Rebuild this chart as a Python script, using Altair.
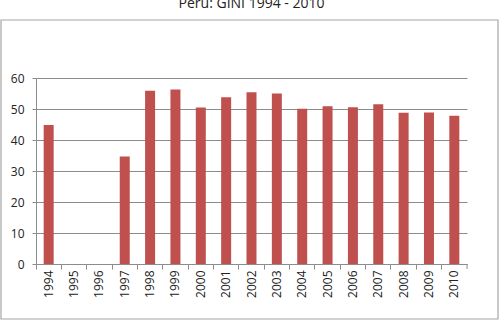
import altair as alt
import pandas as pd

years = ["1994", "1995", "1996", "1997", "1998", "1999", "2000", "2001", "2002",
         "2003", "2004", "2005", "2006", "2007", "2008", "2009", "2010"]
gini = [44.8, None, None, 34.7, 55.9, 56.3, 50.5, 53.8, 55.4,
        55.0, 50.1, 50.9, 50.6, 51.5, 48.8, 48.9, 47.8]
title_text = "Perú: GINI 1994 - 2010"

df = pd.DataFrame({"year": years, "gini": gini})
df_title = pd.DataFrame({"t": [title_text]})

FONT = "Open Sans"
GRAY = "#8c8c8c"

xscale = alt.Scale(domain=years, paddingInner=0, paddingOuter=0)
yscale = alt.Scale(domain=[0, 60], nice=False)

bars = alt.Chart(df).mark_bar(size=10, color="#C0504D").encode(
    x=alt.X("year:O", scale=xscale, title=None,
            axis=alt.Axis(orient="bottom", labelAngle=270, ticks=False, domain=False,
                          labelPadding=6, labelFont=FONT, labelFontSize=12,
                          labelColor="#222222")),
    y=alt.Y("gini:Q", scale=yscale, title=None,
            axis=alt.Axis(values=[0, 10, 20, 30, 40, 50, 60], grid=True,
                          gridColor=GRAY, domainColor=GRAY, tickColor=GRAY,
                          tickSize=4, labelPadding=8, labelFont=FONT,
                          labelFontSize=12, labelColor="#222222")),
)

ticks = alt.Chart(df).mark_rule(opacity=0).encode(
    x=alt.X("year:O", scale=xscale, title=None,
            axis=alt.Axis(orient="bottom", bandPosition=0, labels=False, ticks=True,
                          tickSize=5, tickColor=GRAY, domainColor=GRAY, grid=False)),
)

end_tick = alt.Chart(df_title).mark_rule(color=GRAY).encode(
    x=alt.value(431), y=alt.value(186), y2=alt.value(191)
)

border = alt.Chart(df_title).mark_rect(fill=None, stroke="#a6a6a6", strokeWidth=1.2).encode(
    x=alt.value(-35), x2=alt.value(462), y=alt.value(-58), y2=alt.value(241)
)

title = alt.Chart(df_title).mark_text(
    font=FONT, fontSize=14, color="#222222",
    align="center", baseline="alphabetic"
).encode(text="t:N", x=alt.value(215.5), y=alt.value(-70))

chart = alt.layer(border, bars, ticks, end_tick, title).resolve_axis(x="independent").properties(
    width=431, height=186,
    autosize=alt.AutoSizeParams(type="none"),
    padding={"left": 36, "top": 78, "right": 35, "bottom": 59},
).configure_view(stroke=None)

chart.save("out.html", embed_options={"renderer": "svg", "actions": False})
